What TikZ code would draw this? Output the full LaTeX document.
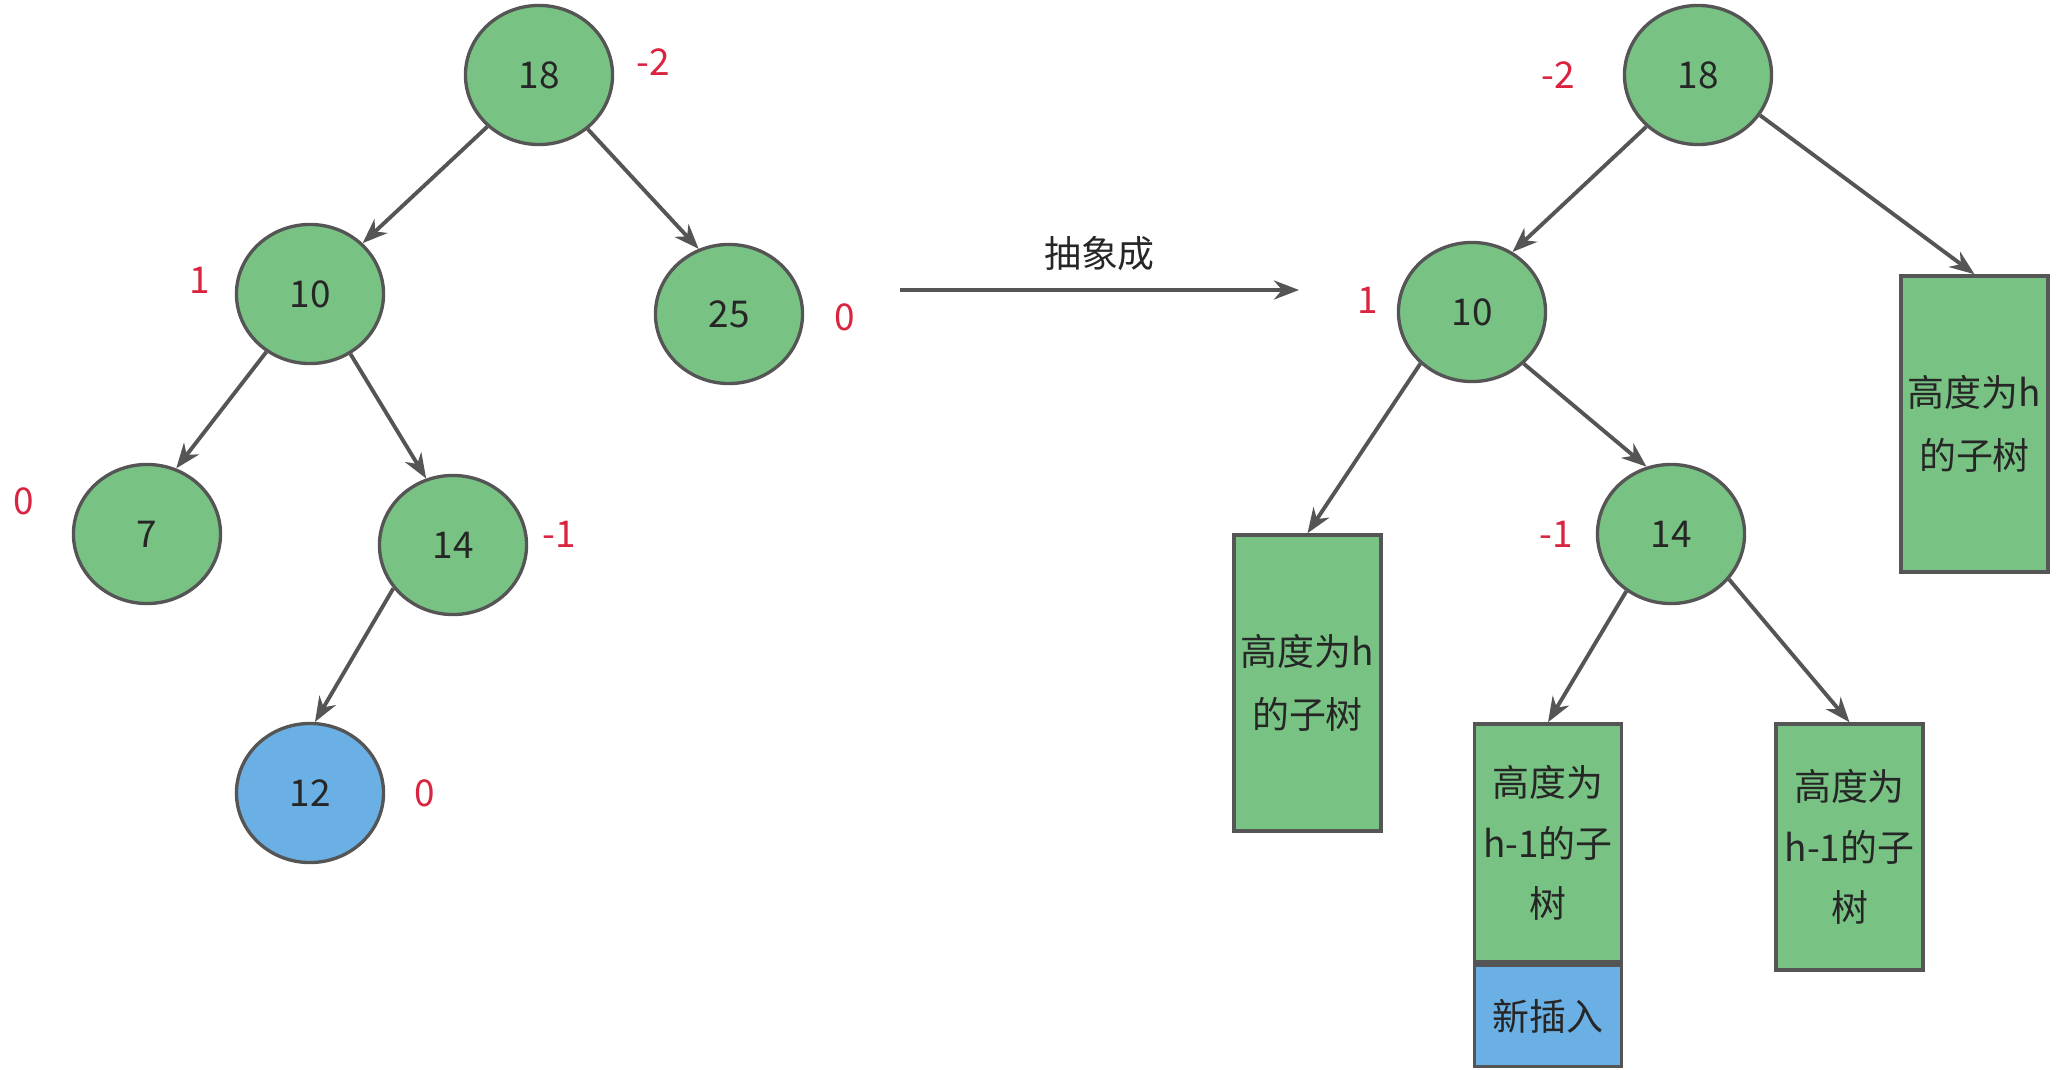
\documentclass[tikz,border=0pt]{standalone}
\usepackage{fontspec}
\setmainfont{Noto Sans CJK SC}
\usetikzlibrary{arrows.meta, positioning, shapes.geometric}
\definecolor{treegreen}{HTML}{78C384}
\definecolor{treeblue}{HTML}{6AB0E4}
\definecolor{linegray}{HTML}{555555}
\definecolor{bfred}{HTML}{D9233F}

\begin{document}
\begin{tikzpicture}[x=0.01cm, y=-0.01cm,
  tn/.style={ellipse, draw=linegray, line width=0.95pt, fill=treegreen,
             minimum width=1.47cm, minimum height=1.39cm, inner sep=0pt,
             text=black!85, font=\fontsize{10.5}{12}\selectfont},
  sub/.style={rectangle, draw=linegray, line width=0.95pt, fill=treegreen,
              minimum width=1.47cm, align=center, inner sep=0pt,
              text=black!85, font=\fontsize{10.5}{18}\selectfont},
  bf/.style={text=bfred, font=\fontsize{10.5}{12}\selectfont},
  link/.style={draw=linegray, line width=1.1pt,
               -{Stealth[length=0.25cm, width=0.19cm, inset=0.08cm]}}
]
  \useasboundingbox (0,0) rectangle (2061,1070);

  % left tree
  \node[tn] (l18) at (539,75) {18};
  \node[tn] (l10) at (310,294) {10};
  \node[tn] (l25) at (729,314) {25};
  \node[tn] (l7) at (147,534) {7};
  \node[tn] (l14) at (453,545) {14};
  \node[tn, fill=treeblue] (l12) at (310,793) {12};

  \node[bf] (bl18) at (653,62) {-2};
  \node[bf] (bl10) at (200,280) {1};
  \node[bf] (bl25) at (845,317) {0};
  \node[bf] (bl7) at (24,501) {0};
  \node[bf] (bl14) at (559,534) {-1};
  \node[bf] (bl12) at (425,793) {0};

  \draw[link] (l18.-135) -- (l10.44);
  \draw[link] (l18.-48) -- (l25.115);
  \draw[link] (l10.-127) -- (l7.66);
  \draw[link] (l10.-56) -- (l14.112);
  \draw[link] (l14.-144) -- (l12.86);

  % abstraction arrow
  \coordinate (absfrom) at (900,290);
  \coordinate (absto) at (1299,290);
  \draw[link] (absfrom) -- node[above=1.5pt, text=black!85, font=\fontsize{10.5}{12}\selectfont]{抽象成} (absto);

  % right tree
  \node[tn] (r18) at (1698,75) {18};
  \node[tn] (r10) at (1472,312) {10};
  \node[tn] (r14) at (1671,534) {14};
  \node[sub, minimum height=2.96cm] (rsubR) at (1974.5,424) {高度为h\\的子树};
  \node[sub, minimum height=2.96cm] (rsubL) at (1307.5,683) {高度为h\\的子树};
  \node[sub, font=\fontsize{10.5}{17.2}\selectfont, minimum height=2.38cm] (rsubA) at (1548,843) {高度为\\h-1的子\\树};
  \node[sub, fill=treeblue, minimum height=1.01cm, anchor=north] (rnew) at (rsubA.south) {新插入};
  \node[sub, font=\fontsize{10.5}{17.2}\selectfont, minimum height=2.46cm] (rsubB) at (1849.5,847) {高度为\\h-1的子\\树};

  \node[bf] (br18) at (1558,75) {-2};
  \node[bf] (br10) at (1368,300) {1};
  \node[bf] (br14) at (1556,534) {-1};

  \draw[link] (r18.-135) -- (r10.56);
  \draw[link] (r18.-33) -- (rsubR.north);
  \draw[link] (r10.-135) -- (rsubL.north);
  \draw[link] (r10.-45) -- (r14.110);
  \draw[link] (r14.-128) -- (rsubA.north);
  \draw[link] (r14.-38) -- (rsubB.north);
\end{tikzpicture}
\end{document}
